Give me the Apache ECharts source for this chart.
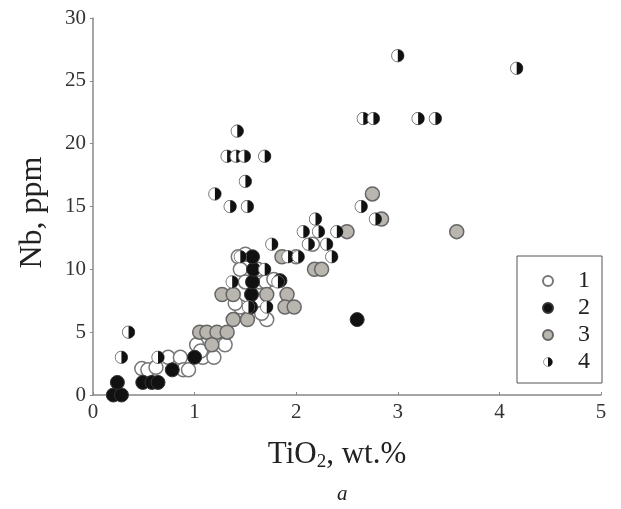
<!DOCTYPE html>
<html>
<head>
<meta charset="utf-8">
<script src="https://cdn.jsdelivr.net/npm/echarts@6/dist/echarts.min.js"></script>
<style>
  html, body { margin: 0; padding: 0; background: #fff; }
  #chart { width: 621px; height: 509px; }
</style>
</head>
<body>
<div id="chart"></div>
<script>
// [TiO2 wt.%, Nb ppm] per group
const group1 = [
  [0.48, 2.1], [0.54, 2], [0.62, 2.2], [0.74, 3], [0.86, 3], [0.89, 2], [0.94, 2],
  [1.02, 4], [1.08, 3], [1.19, 3], [1.3, 4], [1.06, 3.5],
  [1.43, 11], [1.45, 10], [1.5, 9], [1.64, 9], [1.7, 9], [1.78, 9.2], [1.62, 10],
  [1.45, 7], [1.4, 7.3], [1.71, 6], [1.66, 6.5], [2.0, 11], [2.16, 12], [1.5, 11.2]
]
const group2 = [
  [0.2, 0], [0.28, 0], [0.24, 1], [0.49, 1], [0.58, 1], [0.64, 1], [0.78, 2],
  [1.0, 3], [2.6, 6], [1.55, 7], [1.56, 8], [1.57, 9], [1.58, 10], [1.57, 11],
  [1.84, 9.1]
]
const group3 = [
  [1.05, 5], [1.12, 5], [1.22, 5], [1.32, 5], [1.17, 4], [1.27, 8], [1.38, 8],
  [1.71, 8], [1.91, 8], [1.38, 6], [1.52, 6], [1.89, 7], [1.98, 7], [1.86, 11],
  [2.18, 10], [2.25, 10], [2.5, 13], [2.84, 14], [2.75, 16], [3.58, 13]
]
const group4 = [
  [0.28, 3], [0.35, 5], [0.64, 3], [1.37, 9], [1.45, 11], [1.69, 10], [1.82, 9],
  [1.76, 12], [1.92, 11], [2.02, 11], [2.35, 11], [2.12, 12], [2.3, 12],
  [2.07, 13], [2.22, 13], [2.4, 13], [2.19, 14], [2.64, 15], [2.78, 14],
  [1.35, 15], [1.52, 15], [1.2, 16], [1.5, 17], [1.32, 19], [1.41, 19],
  [1.49, 19], [1.69, 19], [1.42, 21], [2.66, 22], [2.76, 22], [3.2, 22],
  [3.37, 22], [3.0, 27], [4.17, 26], [1.53, 7], [1.71, 7]
]
const groupNames = ['1', '2', '3', '4']
const xTicks = [0, 1, 2, 3, 4, 5]
const yTicks = [0, 5, 10, 15, 20, 25, 30]

const serif = '"Liberation Serif", "DejaVu Serif", serif'
const halfSvg = '<svg xmlns="http://www.w3.org/2000/svg" width="28" height="28" viewBox="0 0 28 28">' +
  '<circle cx="14" cy="14" r="12.5" fill="#fff" stroke="#777" stroke-width="2"/>' +
  '<path d="M14,1.5 A12.5,12.5 0 0 1 14,26.5 Z" fill="#111"/></svg>'
const halfSymbol = 'image://data:image/svg+xml;charset=utf-8,' + encodeURIComponent(halfSvg)

const chart = echarts.init(document.getElementById('chart'))

const option = {
  backgroundColor: '#fff',
  animation: false,
  grid: { left: 93, right: 20, top: 18, bottom: 114 },
  title: {
    text: 'a',
    left: 332,
    top: 479,
    textStyle: { fontFamily: serif, fontStyle: 'italic', fontWeight: 'normal', fontSize: 21, color: '#222' }
  },
  legend: {
    orient: 'vertical',
    left: 517,
    top: 256,
    data: groupNames,
    itemWidth: 10,
    itemHeight: 10,
    itemGap: 3,
    padding: [13, 12, 9, 25],
    borderColor: '#555',
    borderWidth: 1,
    textStyle: { fontFamily: serif, fontSize: 24, color: '#222', padding: [0, 0, 0, 20] }
  },
  xAxis: {
    type: 'value',
    min: xTicks[0],
    max: xTicks[xTicks.length - 1],
    interval: 1,
    name: 'TiO{sub|2}, wt.%',
    nameLocation: 'middle',
    nameGap: 42,
    nameTextStyle: {
      fontFamily: serif, fontSize: 31, color: '#222', padding: [0, 20, 0, 0],
      rich: { sub: { fontFamily: serif, fontSize: 19, color: '#222', padding: [16, 0, 0, 0] } }
    },
    axisLine: { lineStyle: { color: '#888', width: 1.5 } },
    axisTick: { inside: true, length: 3, lineStyle: { color: '#888' } },
    splitLine: { show: false },
    axisLabel: { fontFamily: serif, fontSize: 21, color: '#333', margin: 7 }
  },
  yAxis: {
    type: 'value',
    min: yTicks[0],
    max: yTicks[yTicks.length - 1],
    interval: 5,
    name: 'Nb, ppm',
    nameLocation: 'middle',
    nameGap: 44,
    nameTextStyle: { fontFamily: serif, fontSize: 32, color: '#222', padding: [0, 12, 0, 0] },
    axisLine: { show: true, lineStyle: { color: '#888', width: 1.5 } },
    axisTick: { show: true, length: 3, lineStyle: { color: '#888' } },
    splitLine: { show: false },
    axisLabel: { fontFamily: serif, fontSize: 21, color: '#333', margin: 7 }
  },
  series: [
    {
      name: '1', type: 'scatter', data: group1, symbol: 'circle', symbolSize: 14,
      itemStyle: { color: '#fff', borderColor: '#777', borderWidth: 1.5, opacity: 1 }
    },
    {
      name: '3', type: 'scatter', data: group3, symbol: 'circle', symbolSize: 14,
      itemStyle: { color: '#b9b6af', borderColor: '#666', borderWidth: 1.5, opacity: 1 }
    },
    {
      name: '2', type: 'scatter', data: group2, symbol: 'circle', symbolSize: 14,
      itemStyle: { color: '#111', borderColor: '#333', borderWidth: 1, opacity: 1 }
    },
    {
      name: '4', type: 'scatter', data: group4, symbol: halfSymbol, symbolSize: 14,
      itemStyle: { color: '#111', opacity: 1 }
    }
  ]
}

chart.setOption(option)
</script>
</body>
</html>
